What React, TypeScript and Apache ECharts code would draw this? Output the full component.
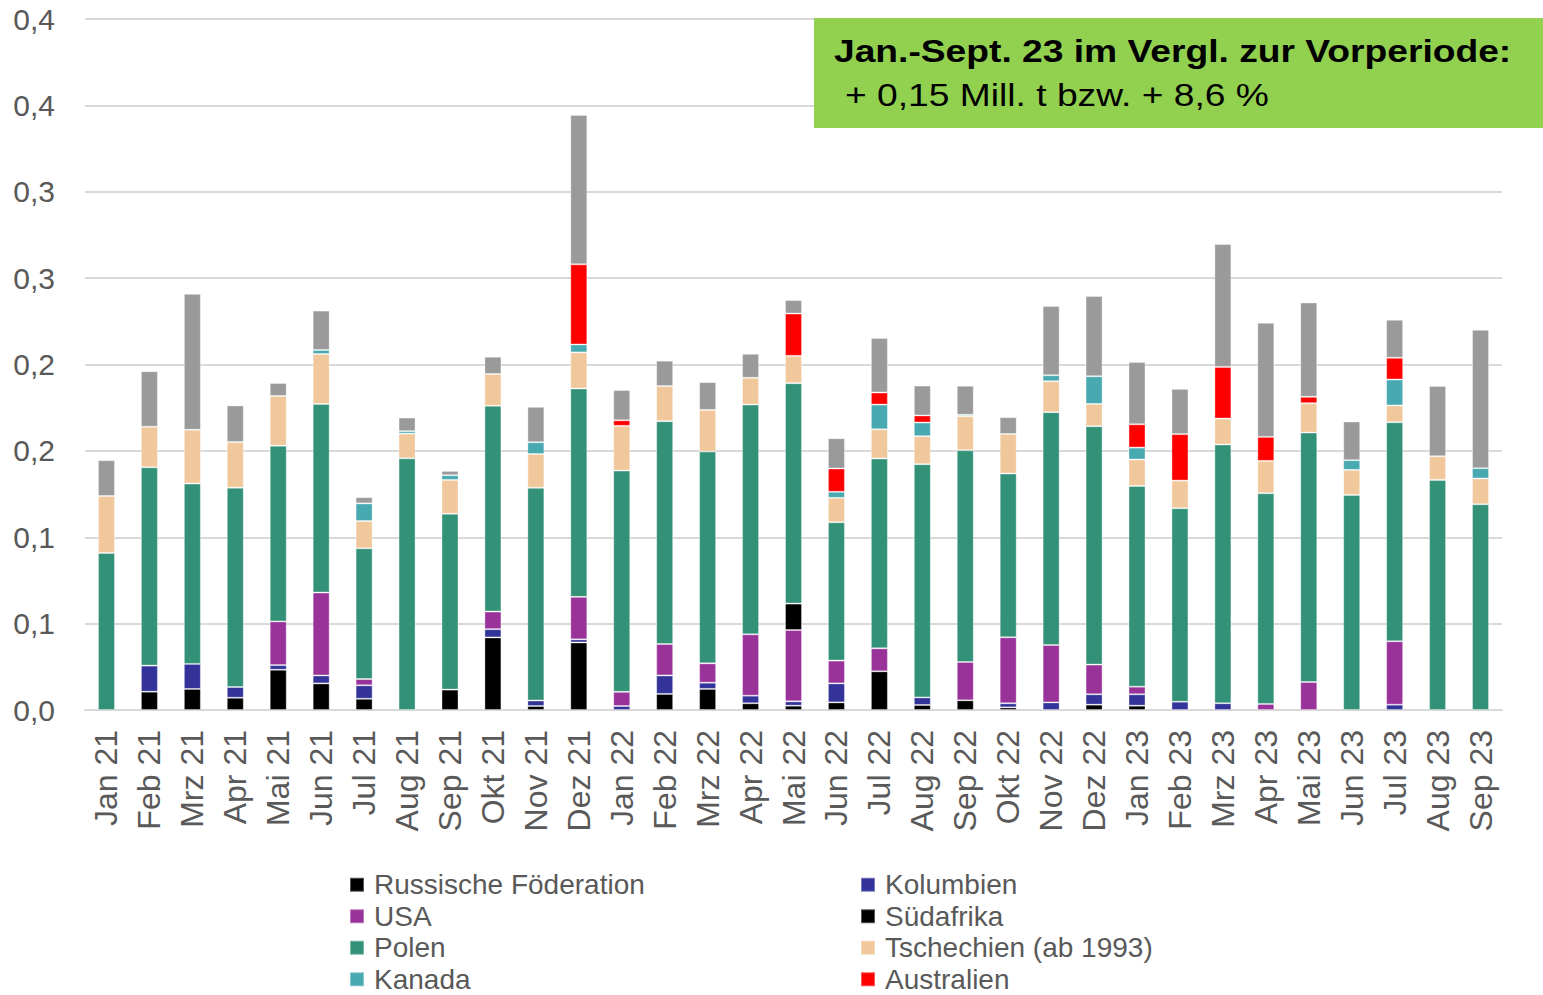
import React, { useEffect, useRef } from 'react';
import * as echarts from 'echarts';

const categories = [
  'Jan 21', 'Feb 21', 'Mrz 21', 'Apr 21', 'Mai 21', 'Jun 21', 'Jul 21', 'Aug 21', 'Sep 21', 'Okt 21', 'Nov 21', 'Dez 21',
  'Jan 22', 'Feb 22', 'Mrz 22', 'Apr 22', 'Mai 22', 'Jun 22', 'Jul 22', 'Aug 22', 'Sep 22', 'Okt 22', 'Nov 22', 'Dez 22',
  'Jan 23', 'Feb 23', 'Mrz 23', 'Apr 23', 'Mai 23', 'Jun 23', 'Jul 23', 'Aug 23', 'Sep 23',
];

const russland = [0, 0.0106, 0.0122, 0.0071, 0.0233, 0.0154, 0.0065, 0, 0.0118, 0.042, 0.0023, 0.0391,
  0, 0.0093, 0.0122, 0.0039, 0.0025, 0.0044, 0.0224, 0.0029, 0.0056, 0.0015, 0, 0.0031,
  0.0025, 0, 0, 0, 0, 0, 0, 0, 0];
const kolumbien = [0, 0.0151, 0.0145, 0.0062, 0.0027, 0.0046, 0.0078, 0, 0, 0.0048, 0.0032, 0.0018,
  0.0023, 0.0107, 0.0036, 0.0044, 0.0025, 0.011, 0, 0.0044, 0, 0.0024, 0.0044, 0.006,
  0.0066, 0.0048, 0.0039, 0, 0, 0, 0.0031, 0, 0];
const usa = [0, 0, 0, 0, 0.0253, 0.048, 0.0036, 0, 0, 0.0102, 0, 0.0246,
  0.0082, 0.0182, 0.0112, 0.0355, 0.0413, 0.0132, 0.0133, 0, 0.0222, 0.0382, 0.0332, 0.0172,
  0.0044, 0, 0, 0.0035, 0.0162, 0, 0.0367, 0, 0];
const suedafrika = [0, 0, 0, 0, 0, 0, 0, 0, 0, 0, 0, 0,
  0, 0, 0, 0, 0.0153, 0, 0, 0, 0, 0, 0, 0,
  0, 0, 0, 0, 0, 0, 0, 0, 0];
const polen = [0.0909, 0.1148, 0.1044, 0.1154, 0.1017, 0.1092, 0.0757, 0.1457, 0.1018, 0.1191, 0.1231, 0.1206,
  0.1281, 0.129, 0.1226, 0.133, 0.1276, 0.0801, 0.1099, 0.135, 0.1226, 0.0948, 0.1348, 0.138,
  0.1162, 0.112, 0.1498, 0.122, 0.1444, 0.1245, 0.1268, 0.1332, 0.1191];
const tschechien = [0.033, 0.0235, 0.0311, 0.0264, 0.0288, 0.0289, 0.0158, 0.0143, 0.0196, 0.0184, 0.0196, 0.0209,
  0.0259, 0.0203, 0.0241, 0.0155, 0.0158, 0.0141, 0.0169, 0.0162, 0.0197, 0.0229, 0.0179, 0.0129,
  0.0153, 0.016, 0.015, 0.0187, 0.017, 0.0145, 0.0097, 0.0137, 0.0149];
const kanada = [0, 0, 0, 0, 0, 0.0023, 0.0102, 0.0014, 0.0027, 0, 0.0068, 0.0046,
  0, 0, 0, 0, 0, 0.0035, 0.0143, 0.0079, 0.0008, 0, 0.0035, 0.016,
  0.0069, 0, 0, 0, 0, 0.0056, 0.015, 0, 0.006];
const australien = [0, 0, 0, 0, 0, 0, 0, 0, 0, 0, 0, 0.0464,
  0.0032, 0, 0, 0, 0.0245, 0.0135, 0.007, 0.0041, 0, 0, 0, 0,
  0.0135, 0.0269, 0.0299, 0.0139, 0.0037, 0, 0.0126, 0, 0];
const sonstige = [0.0207, 0.0321, 0.0787, 0.0212, 0.0075, 0.0228, 0.0036, 0.0079, 0.0025, 0.01, 0.0205, 0.0865,
  0.0175, 0.0147, 0.0161, 0.0139, 0.0078, 0.0175, 0.0315, 0.0173, 0.0168, 0.0097, 0.04, 0.0464,
  0.036, 0.0262, 0.0711, 0.066, 0.0546, 0.0224, 0.022, 0.0407, 0.0801];

const seriesDefs = [
  { name: 'Russische Föderation', data: russland, color: '#000000' },
  { name: 'Kolumbien', data: kolumbien, color: '#333399' },
  { name: 'USA', data: usa, color: '#993399' },
  { name: 'Südafrika', data: suedafrika, color: '#000000' },
  { name: 'Polen', data: polen, color: '#339178' },
  { name: 'Tschechien (ab 1993)', data: tschechien, color: '#f0c89b' },
  { name: 'Kanada', data: kanada, color: '#48a9b1' },
  { name: 'Australien', data: australien, color: '#ff0000' },
  { name: 'Sonstige', data: sonstige, color: '#9a9a9a' },
];

const legendLeft = ['Russische Föderation', 'USA', 'Polen', 'Kanada'];
const legendRight = ['Kolumbien', 'Südafrika', 'Tschechien (ab 1993)', 'Australien'];

const annotationTitle = 'Jan.-Sept. 23 im Vergl. zur Vorperiode:';
const annotationValue = '+ 0,15 Mill. t bzw. + 8,6 %';

const FONT = '"Liberation Sans", Arial, sans-serif';
const TEXT_GREY = '#595959';

export default function App() {
  const ref = useRef<HTMLDivElement>(null);
  useEffect(() => {
    document.body.style.margin = '0';
    const chart = echarts.init(ref.current as HTMLDivElement, null, { renderer: 'svg' });
    const legendCommon = {
      orient: 'vertical',
      icon: 'rect',
      itemWidth: 14,
      itemHeight: 14,
      itemGap: 0,
      padding: 0,
      height: 200,
      selectedMode: false,
      textStyle: { color: TEXT_GREY, fontSize: 28, fontFamily: FONT, lineHeight: 31.5, padding: [0, 0, 0, 5] },
    };
    chart.setOption({
      animation: false,
      textStyle: { fontFamily: FONT },
      grid: { left: 85, right: 41, top: 19, bottom: 285, containLabel: false },
      legend: [
        { ...legendCommon, left: 349, top: 869, data: legendLeft },
        { ...legendCommon, left: 860, top: 869, data: legendRight },
      ],
      xAxis: {
        type: 'category',
        data: categories,
        axisLine: { lineStyle: { color: '#d9d9d9', width: 2 } },
        axisTick: { show: false },
        axisLabel: { rotate: 90, color: TEXT_GREY, fontSize: 32, fontFamily: FONT, margin: 20, interval: 0 },
      },
      yAxis: {
        type: 'value',
        min: 0,
        max: 0.4,
        interval: 0.05,
        axisLine: { show: false },
        axisTick: { show: false },
        splitLine: { lineStyle: { color: '#d9d9d9', width: 2 } },
        axisLabel: {
          color: TEXT_GREY,
          fontSize: 30,
          fontFamily: FONT,
          margin: 30,
          formatter: (v: number) => (Math.round(v * 10 + 1e-9) / 10).toFixed(1).replace('.', ','),
        },
      },
      series: seriesDefs.map((s) => ({
        name: s.name,
        type: 'bar',
        stack: 'total',
        barWidth: 17,
        data: s.data.map((v) => (v === 0 ? null : v)),
        itemStyle: { color: s.color, borderColor: 'rgba(255,255,255,0.35)', borderWidth: 1 },
      })),
      graphic: [
        {
          type: 'rect',
          z: 100,
          x: 814,
          y: 18,
          shape: { x: 0, y: 0, width: 729, height: 110 },
          style: { fill: '#92d050' },
        },
        {
          type: 'text',
          z: 101,
          x: 834,
          y: 51,
          scaleX: 1.2,
          style: { text: annotationTitle, fill: '#000', font: 'bold 31px "Liberation Sans", Arial, sans-serif', verticalAlign: 'middle', align: 'left' },
        },
        {
          type: 'text',
          z: 101,
          x: 845,
          y: 95,
          scaleX: 1.2,
          style: { text: annotationValue, fill: '#000', font: '31px "Liberation Sans", Arial, sans-serif', verticalAlign: 'middle', align: 'left' },
        },
      ],
    });
    return () => chart.dispose();
  }, []);
  return <div ref={ref} style={{ width: 1543, height: 995 }} />;
}
